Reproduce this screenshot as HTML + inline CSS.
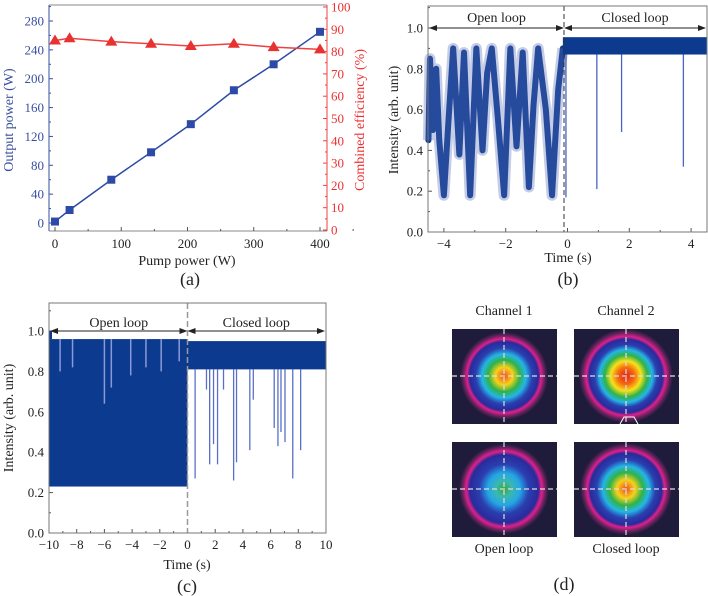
<!DOCTYPE html>
<html><head><meta charset="utf-8">
<style>
html,body{margin:0;padding:0;background:#fff}
svg{display:block;font-family:"Liberation Serif",serif}
</style></head>
<body>
<svg id="fig" width="708" height="596" viewBox="0 0 708 596" xmlns="http://www.w3.org/2000/svg">
<defs>
<radialGradient id="beamFull" cx="50%" cy="50%" r="50%">
<stop offset="0" stop-color="#e8201c"/><stop offset="0.18" stop-color="#f56a10"/><stop offset="0.32" stop-color="#f7e21a"/>
<stop offset="0.45" stop-color="#2fb24a"/><stop offset="0.56" stop-color="#24b6e6"/><stop offset="0.66" stop-color="#2a3fb0"/>
<stop offset="0.78" stop-color="#2a2a9a"/><stop offset="0.84" stop-color="#e0208a"/><stop offset="0.92" stop-color="#6a2260"/><stop offset="1" stop-color="#1e1c3a"/>
</radialGradient>
<radialGradient id="beamCh1" cx="50%" cy="50%" r="50%">
<stop offset="0" stop-color="#f0501a"/><stop offset="0.2" stop-color="#f7d21a"/><stop offset="0.36" stop-color="#2fb24a"/>
<stop offset="0.5" stop-color="#24b6e6"/><stop offset="0.64" stop-color="#2a3fb0"/><stop offset="0.78" stop-color="#2a2a9a"/>
<stop offset="0.84" stop-color="#e0208a"/><stop offset="0.92" stop-color="#6a2260"/><stop offset="1" stop-color="#1e1c3a"/>
</radialGradient>
<radialGradient id="beamOpen" cx="50%" cy="50%" r="50%">
<stop offset="0" stop-color="#3aa840"/><stop offset="0.18" stop-color="#3ab8b0"/><stop offset="0.36" stop-color="#24a6e6"/>
<stop offset="0.55" stop-color="#2a3fb0"/><stop offset="0.76" stop-color="#2a2a9a"/><stop offset="0.84" stop-color="#e0208a"/>
<stop offset="0.92" stop-color="#6a2260"/><stop offset="1" stop-color="#1e1c3a"/>
</radialGradient>
</defs>
<g id="pa"></g>
<g id="pb"></g>
<g id="pc"></g>
<g id="pd"></g>
</svg>
<script>
// ---- Panel (a) data ----
const pumpPower = [0, 22, 85, 145, 205, 270, 330, 400];
const outputPower = [2, 18, 60, 98, 137, 184, 220, 265];
const efficiency = [85, 86, 84.5, 83.5, 82.5, 83.5, 82, 81];
const aXTicks = [0, 100, 200, 300, 400];
const aYTicks = [0, 40, 80, 120, 160, 200, 240, 280];
const aY2Ticks = [0, 10, 20, 30, 40, 50, 60, 70, 80, 90, 100];
// ---- Panel (b) data ----
const bOpenTimes = [-4.5,-4.45,-4.35,-4.25,-4.15,-4.0,-3.85,-3.7,-3.5,-3.35,-3.15,-2.95,-2.75,-2.6,-2.45,-2.25,-2.05,-1.85,-1.65,-1.45,-1.25,-1.1,-0.95,-0.7,-0.5,-0.3,-0.15];
const bOpenCenter = [0.45,0.85,0.5,0.8,0.45,0.18,0.55,0.9,0.38,0.88,0.18,0.9,0.4,0.78,0.9,0.55,0.18,0.9,0.42,0.88,0.22,0.62,0.9,0.6,0.18,0.7,0.9];
const bClosedLow = 0.87, bClosedHigh = 0.955;
const bSpikeTimes = [-0.05, 0.95, 1.75, 3.75];
const bSpikeValues = [0.17, 0.21, 0.49, 0.32];
const bXTicks = [-4, -2, 0, 2, 4];
const intTicks = [0.0, 0.2, 0.4, 0.6, 0.8, 1.0];
// ---- Panel (c) data ----
const cOpenLow = 0.23, cOpenHigh = 0.96;
const cOpenGapTimes = [-9.2, -8.3, -6.0, -5.5, -4.1, -3.0, -1.9, -0.6];
const cOpenGapValues = [0.8, 0.82, 0.64, 0.72, 0.78, 0.82, 0.8, 0.85];
const cClosedLow = 0.81, cClosedHigh = 0.95;
const cSpikeTimes = [0.55, 1.37, 1.6, 1.88, 2.17, 2.6, 3.33, 3.54, 4.5, 4.75, 6.26, 6.53, 6.75, 7.04, 7.6, 8.17];
const cSpikeValues = [0.27, 0.71, 0.34, 0.44, 0.34, 0.71, 0.26, 0.35, 0.41, 0.66, 0.52, 0.43, 0.5, 0.45, 0.27, 0.41];
const cXTicks = [-10, -8, -6, -4, -2, 0, 2, 4, 6, 8, 10];

const NS = "http://www.w3.org/2000/svg";
function mk(parent, tag, attrs, text){
  const e = document.createElementNS(NS, tag);
  for (const k in attrs) e.setAttribute(k, attrs[k]);
  if (text !== undefined) e.textContent = text;
  parent.appendChild(e); return e;
}
const BLUE = "#0b3a8f", TXT = "#222";

// ===== Panel A =====
(function(){
  const g = document.getElementById('pa');
  const L=49,R=327,T=5,B=231;
  const x = v => 55 + v*(320-55)/400;
  const y = v => 223 - v*(223-21)/280;
  const y2 = v => 230 - v*(230-7)/100;
  mk(g,'line',{x1:L,y1:T,x2:R,y2:T,stroke:'#888'});
  mk(g,'line',{x1:L,y1:B,x2:R,y2:B,stroke:'#888'});
  const la = mk(g,'line',{x1:L,y1:T,x2:L,y2:B,stroke:'#3a4fa0'});
   
  const ra = mk(g,'line',{x1:R,y1:T,x2:R,y2:B,stroke:'#ee4040'});
   
  aXTicks.forEach(v=>{
    mk(g,'line',{x1:x(v),y1:B,x2:x(v),y2:B-4,stroke:'#555'});
    mk(g,'line',{x1:x(v+50),y1:B,x2:x(v+50),y2:B-2,stroke:'#555'});
    const t = mk(g,'text',{x:x(v),y:248,'text-anchor':'middle','font-size':13,fill:TXT},v);
     
  });
  aYTicks.forEach(v=>{
    mk(g,'line',{x1:L,y1:y(v),x2:L+4,y2:y(v),stroke:'#3a4fa0'});
    mk(g,'line',{x1:L,y1:y(v+20),x2:L+2,y2:y(v+20),stroke:'#3a4fa0'});
    const t = mk(g,'text',{x:44,y:y(v)+4.5,'text-anchor':'end','font-size':13,fill:'#3a4fa0'},v);
     
  });
  aY2Ticks.forEach(v=>{
    mk(g,'line',{x1:R,y1:y2(v),x2:R-4,y2:y2(v),stroke:'#ee4040'});
    if(v<100) mk(g,'line',{x1:R,y1:y2(v+5),x2:R-2,y2:y2(v+5),stroke:'#ee4040'});
    const t = mk(g,'text',{x:331,y:y2(v)+4.5,'font-size':13,fill:'#ee3030'},v);
     
  });
  const pts = pumpPower.map((p,i)=>x(p)+','+y(outputPower[i])).join(' ');
  const ol = mk(g,'polyline',{points:pts,fill:'none',stroke:'#2d4aa6','stroke-width':1.5});
   
  pumpPower.forEach((p,i)=>{
    const r = mk(g,'rect',{x:x(p)-4,y:y(outputPower[i])-4,width:8,height:8,fill:'#2d4aa6'});
     
  });
  const pts2 = pumpPower.map((p,i)=>x(p)+','+y2(efficiency[i])).join(' ');
  const el = mk(g,'polyline',{points:pts2,fill:'none',stroke:'#ee4040','stroke-width':1.5});
   
  pumpPower.forEach((p,i)=>{
    const cx=x(p), cy=y2(efficiency[i]);
    const tr = mk(g,'polygon',{points:`${cx},${cy-6} ${cx-6},${cy+4} ${cx+6},${cy+4}`,fill:'#e83232'});
     
  });
  const xt = mk(g,'text',{x:187,y:265,'text-anchor':'middle','font-size':14,fill:TXT},'Pump power (W)');
   
  const yt = mk(g,'text',{x:0,y:0,transform:'translate(13,120) rotate(-90)','text-anchor':'middle','font-size':14,fill:'#3a4fa0'},'Output power (W)');
   
  const y2t = mk(g,'text',{x:0,y:0,transform:'translate(364,120) rotate(-90)','text-anchor':'middle','font-size':14,fill:'#ee3030'},'Combined efficiency (%)');
   
  const pl = mk(g,'text',{x:190,y:285,'text-anchor':'middle','font-size':18,fill:TXT},'(a)');
   
})();

function loopAnnot(g, xL, xM, xR, yy, ty){
  mk(g,'line',{x1:xL+2,y1:yy,x2:xM-2,y2:yy,stroke:'#222','stroke-width':1});
  mk(g,'line',{x1:xM+2,y1:yy,x2:xR-2,y2:yy,stroke:'#222','stroke-width':1});
  [[xL,1],[xM,-1],[xM,1],[xR,-1]].forEach(([px,d])=>{
    mk(g,'polygon',{points:`${px},${yy} ${px+8*d},${yy-3} ${px+8*d},${yy+3}`,fill:'#222'});
  });
  const o = mk(g,'text',{x:(xL+xM)/2,y:ty,'text-anchor':'middle','font-size':14,fill:TXT},'Open loop');
   
  const c = mk(g,'text',{x:(xM+xR)/2,y:ty,'text-anchor':'middle','font-size':14,fill:TXT},'Closed loop');
   
}

function intensityAxes(g,L,R,T,B,x,y,xticks,minorStep){
  mk(g,'rect',{x:L,y:T,width:R-L,height:B-T,fill:'none',stroke:'#777'});
  xticks.forEach(v=>{
    mk(g,'line',{x1:x(v),y1:B,x2:x(v),y2:B-4,stroke:'#555'});
    const t = mk(g,'text',{x:x(v),y:B+16,'text-anchor':'middle','font-size':13,fill:TXT},v<0?'\u2212'+(-v):v);
     
    if(minorStep && x(v+minorStep)<R) mk(g,'line',{x1:x(v+minorStep),y1:B,x2:x(v+minorStep),y2:B-2,stroke:'#555'});
  });
  intTicks.forEach(v=>{
    mk(g,'line',{x1:L,y1:y(v),x2:L+4,y2:y(v),stroke:'#555'});
    mk(g,'line',{x1:L,y1:y(v+0.1),x2:L+2,y2:y(v+0.1),stroke:'#555'});
    const t = mk(g,'text',{x:L-5,y:y(v)+4.5,'text-anchor':'end','font-size':13,fill:TXT},v.toFixed(1));
     
  });
}

// ===== Panel B =====
(function(){
  const g = document.getElementById('pb');
  const L=428,R=707,T=6,B=232;
  const x = v => 567.5 + v*30.9;
  const y = v => 232 - v*204;
  intensityAxes(g,L,R,T,B,x,y,bXTicks,1);
  const pts = bOpenTimes.map((t,i)=>x(t)+','+y(bOpenCenter[i])).join(' ');
  const pl = mk(g,'polyline',{points:pts,fill:'none',stroke:BLUE,'stroke-width':6,'stroke-linejoin':'round','stroke-linecap':'round'});
   
  const pl2 = mk(g,'polyline',{points:pts,fill:'none',stroke:'#5a6cb8','stroke-width':11,'stroke-linejoin':'round','stroke-opacity':0.35});
   
  const cb = mk(g,'rect',{x:x(-0.15),y:y(bClosedHigh),width:x(4.5)-x(-0.15),height:y(bClosedLow)-y(bClosedHigh),fill:BLUE});
   
  bSpikeTimes.forEach((t,i)=>{
    const s = mk(g,'line',{x1:x(t),y1:y(bClosedLow),x2:x(t),y2:y(bSpikeValues[i]),stroke:'#4a64c0','stroke-width':1.3});
     
  });
  mk(g,'line',{x1:564,y1:T,x2:564,y2:B,stroke:'#333','stroke-dasharray':'5,3'});
  mk(g,'rect',{x:L,y:T,width:R-L,height:B-T,fill:'none',stroke:'#777'});
  loopAnnot(g, L+1, 564, R-1, y(1.0), 22);
  const xt = mk(g,'text',{x:568,y:262,'text-anchor':'middle','font-size':14,fill:TXT},'Time (s)');
   
  const yt = mk(g,'text',{x:0,y:0,transform:'translate(398,120) rotate(-90)','text-anchor':'middle','font-size':14,fill:TXT},'Intensity (arb. unit)');
   
  const lb = mk(g,'text',{x:568,y:285,'text-anchor':'middle','font-size':18,fill:TXT},'(b)');
   
})();

// ===== Panel C =====
(function(){
  const g = document.getElementById('pc');
  const L=49,R=326,T=303,B=533;
  const x = v => 49 + (v+10)*(326-49)/20;
  const y = v => 533 - v*202;
  intensityAxes(g,L,R,T,B,x,y,cXTicks,1);
  const ob = mk(g,'rect',{x:x(-10),y:y(cOpenHigh),width:x(0)-x(-10),height:y(cOpenLow)-y(cOpenHigh),fill:BLUE});
   
  mk(g,'rect',{x:x(-10),y:y(1.0),width:3,height:y(cOpenHigh)-y(1.0),fill:BLUE});
  cOpenGapTimes.forEach((t,i)=>{
    const s = mk(g,'line',{x1:x(t),y1:y(cOpenHigh),x2:x(t),y2:y(cOpenGapValues[i]),stroke:'#8a9ad6','stroke-width':1.5});
     
  });
  const cb = mk(g,'rect',{x:x(0),y:y(cClosedHigh),width:x(10)-x(0),height:y(cClosedLow)-y(cClosedHigh),fill:BLUE});
   
  cSpikeTimes.forEach((t,i)=>{
    const s = mk(g,'line',{x1:x(t),y1:y(cClosedLow),x2:x(t),y2:y(cSpikeValues[i]),stroke:'#5a70c8','stroke-width':1.3});
     
  });
  mk(g,'line',{x1:x(0),y1:T,x2:x(0),y2:B,stroke:'#999','stroke-dasharray':'6,3','stroke-width':1.5});
  mk(g,'rect',{x:L,y:T,width:R-L,height:B-T,fill:'none',stroke:'#777'});
  loopAnnot(g, L+1, x(0), R-1, y(1.0), 327);
  const xt = mk(g,'text',{x:187,y:569,'text-anchor':'middle','font-size':14,fill:TXT},'Time (s)');
   
  const yt = mk(g,'text',{x:0,y:0,transform:'translate(13,418) rotate(-90)','text-anchor':'middle','font-size':14,fill:TXT},'Intensity (arb. unit)');
   
  const lb = mk(g,'text',{x:187,y:592,'text-anchor':'middle','font-size':18,fill:TXT},'(c)');
   
})();

// ===== Panel D =====
(function(){
  const g = document.getElementById('pd');
  const beams = [
    {x:452,y:329,grad:'beamCh1',r:44,name:'beam-channel1-closed'},
    {x:574,y:329,grad:'beamFull',r:47,name:'beam-channel2-closed'},
    {x:452,y:442,grad:'beamOpen',r:45,name:'beam-channel1-open'},
    {x:574,y:442,grad:'beamCh1',r:46,name:'beam-channel2-sum'}
  ];
  beams.forEach((b,i)=>{
    const grp = mk(g,'g',{});
    
    
    const cp = mk(grp,'clipPath',{id:'clip'+i});
    mk(cp,'rect',{x:b.x,y:b.y,width:105,height:95});
    mk(grp,'rect',{x:b.x,y:b.y,width:105,height:95,fill:'#1e1c3a'});
    const cx=b.x+52, cy=b.y+47;
    mk(grp,'circle',{cx:cx,cy:cy,r:b.r,fill:'url(#'+b.grad+')','clip-path':'url(#clip'+i+')'});
    mk(grp,'line',{x1:b.x,y1:cy,x2:b.x+105,y2:cy,stroke:'#ddd','stroke-dasharray':'5,3','stroke-width':1.2});
    mk(grp,'line',{x1:cx,y1:b.y,x2:cx,y2:b.y+95,stroke:'#ddd','stroke-dasharray':'5,3','stroke-width':1.2});
  });
  mk(g,'polyline',{points:'620,424 624,417 634,417 638,424',fill:'none',stroke:'#fff','stroke-width':1});
  [['Channel 1',504,315,'channel1-label'],['Channel 2',626,315,'channel2-label'],['Open loop',504,553,'open-loop-label'],['Closed loop',626,553,'closed-loop-label']].forEach(a=>{
    const t = mk(g,'text',{x:a[1],y:a[2],'text-anchor':'middle','font-size':14,fill:TXT},a[0]);
     
  });
  const lb = mk(g,'text',{x:564,y:590,'text-anchor':'middle','font-size':18,fill:TXT},'(d)');
   
})();
</script>
</body></html>
